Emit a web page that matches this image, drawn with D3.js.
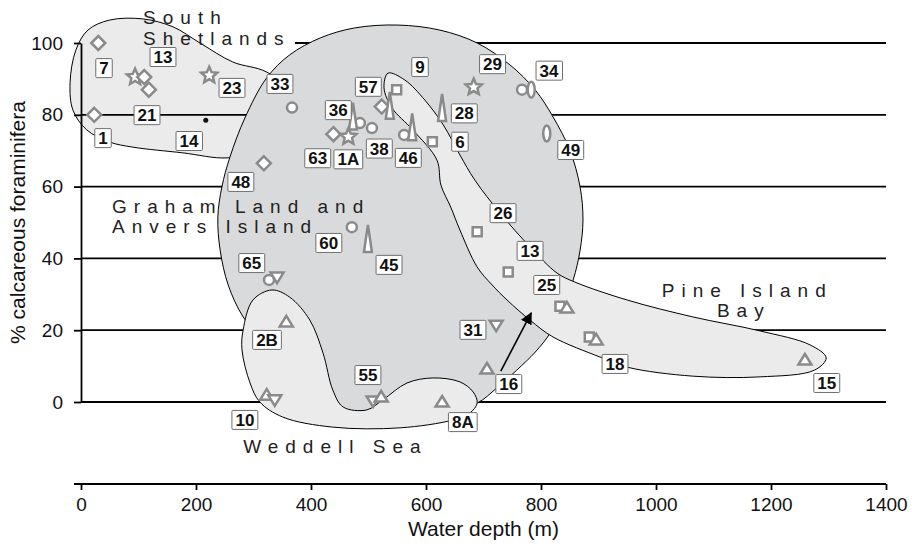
<!DOCTYPE html>
<html><head><meta charset="utf-8">
<script src="https://cdn.jsdelivr.net/npm/d3@7"></script>
<style>
body{margin:0;background:#fff;}
text{font-family:"Liberation Sans",Arial,Helvetica,sans-serif;}
</style></head><body>
<svg id="chart" width="912" height="554"></svg>
<script>
// ---------- data ----------
const xTicks = [0, 200, 400, 600, 800, 1000, 1200, 1400];
const yTicks = [0, 20, 40, 60, 80, 100];

const pointShapes = ["diamond","star","diamond","diamond","star","diamond","dot","circle","diamond",
  "square","diamond","spike","star","circle","ellipse","spike","circle","circle","spike","diamond","star",
  "circle","spike","square","ellipse","circle","spike","square","square","square","triangleUp","square",
  "triangleUp","triangleUp","triangleDown","triangleUp","circle","triangleDown","triangleUp","triangleUp",
  "triangleDown","triangleDown","triangleUp","triangleUp"];
const pointDepths = [30,94,110,118,223,23,217,367,318,
  549,523,537,683,767,783,628,485,506,473,439,465,
  562,576,611,810,471,499,689,743,833,845,884,
  896,1259,722,706,327,341,357,323,
  337,508,522,628];
const pointPercents = [100,90.5,90.5,87,91,80,78.5,82,66.5,
  87,82.3,82.5,87.7,87,87,81.9,77.7,76.3,79.5,74.6,73.9,
  74.4,76.5,72.5,74.8,48.7,45.4,47.4,36.2,26.7,26.2,18.1,
  17.3,11.7,21.4,9.2,34,34.8,22.3,1.9,
  0.6,0.3,1.4,0];

const stationLabels = ["7","13","21","1","14","23","33","48","9","29","34","57","36","28","6","63","1A","38",
  "46","49","26","13","25","60","45","65","2B","31","55","10","8A","16","18","15"];
const stationLabelDepths = [40,142.6,114.8,38.3,187.8,262.6,346,278,589.6,715.7,813.9,499.7,447.5,666.6,659,411.7,464.9,518.8,
  569.2,851.7,734,781,810,431,535.7,297,323.5,681.7,499,285,664,744,928.7,1297];
const stationLabelPercents = [93,96.1,79.9,73.5,72.7,87.5,88.6,61.3,93.3,94.1,92.3,87.8,81.3,80.4,72.5,67.9,67.6,70.6,
  68,70.2,52.6,42.1,32.6,44.3,38.2,38.7,17.3,20.1,7.5,-5,-5.6,5,10.6,5.3];

// region outlines (depth m, % calcareous)
const southShetlands = [[-19,88.9],[-9,98],[12,103.6],[50,106.4],[108,106.7],[160,104.5],[207,100],[264,94.7],
  [323,91.9],[381,84.1],[311,70.2],[254,68],[177,69.4],[90,71],[50,72.4],[10,75.8],[-14,81.3]];
const grahamLand = [[551,105],[624,103.6],[689,100],[746,93.9],[790,86.9],[821,79.4],[850,70.2],[868,59.9],
  [873,50.7],[868,42.3],[856,34],[836,25.6],[816,19.2],[790,13.9],[758,8.9],[723,3.9],[689,-0.3],[624,-3.3],
  [555,-3.9],[485,-3.6],[433,-0.8],[381,4.7],[329,14.5],[282,23.7],[256,32.6],[242,42.3],[238,51.5],[245,59.9],
  [259,68.2],[285,79.1],[323,90.3],[363,96.7],[416,101.4],[476,104.2]];
const pineIslandBay = [[534,91.6],[563,89.7],[598,84.1],[630,77.2],[659,68.8],[685,61.8],[729,52.6],[781,43.2],
  [828,35.9],[859,33.4],[950,28.4],[1064,23.7],[1181,19.8],[1268,15.9],[1296,12.3],[1276,8.9],[1181,7],
  [1064,7.2],[950,9.7],[903,12.5],[821,18.1],[781,22.8],[741,28.4],[715,32.6],[689,37.6],[659,47.9],
  [643,54.3],[626,60.4],[619,67.4],[577,75.8],[541,81.9],[527,87.5]];
const weddellSea = [[332,31.2],[363,29.2],[398,22.8],[421,13.6],[438,3.3],[456,-1.4],[497,-2.2],[525,0.6],
  [567,5.3],[612,6.7],[659,5.6],[682,2.8],[689,-0.3],[676,-3.1],[647,-5],[555,-7.2],[438,-7],[351,-4.2],
  [311,0],[294,5.3],[280,14.5],[282,20.1],[299,28.4]];

const regionNames = ["South","Shetlands","Graham Land and","Anvers Island","Pine Island","Bay","Weddell Sea"];
const regionNameDepths = [108,108,54,54,1010,1106,282];
const regionNamePercents = [105.3,99.4,52.6,47.1,29.2,23.7,-14.2];

const arrowFrom = [730, 8.6];
const arrowTo = [783, 24.8];

// ---------- chart ----------
const svg = d3.select("#chart");
const x = d3.scaleLinear().domain([0, 1400]).range([81, 886]);
const y = d3.scaleLinear().domain([0, 100]).range([402, 43]);

const blob = d3.line().x(d => x(d[0])).y(d => y(d[1])).curve(d3.curveCatmullRomClosed.alpha(0.5));

const light = "#ebebeb", mid = "#d9dadb", markGrey = "#8a8a8a";
const fontFam = '"Liberation Sans",Arial,sans-serif';

// South Shetlands blob (under gridlines)
svg.append("path").attr("d", blob(southShetlands)).attr("fill", light).attr("stroke", "#000").attr("stroke-width", 1);

// gridlines
svg.append("g").selectAll("line").data(yTicks).join("line")
  .attr("x1", d => d === 100 ? x(372) : x(0)).attr("x2", x(1400))
  .attr("y1", d => y(d)).attr("y2", d => y(d))
  .attr("stroke", "#000").attr("stroke-width", 1.8);

// y axis
const yAxis = svg.append("g").attr("transform", `translate(${x(0)},0)`)
  .call(d3.axisLeft(y).tickValues(yTicks).tickSize(7).tickSizeOuter(0).tickPadding(11));
yAxis.select(".domain").attr("stroke-width", 1.8);
yAxis.selectAll(".tick line").attr("stroke-width", 1.8);
yAxis.selectAll("text").attr("font-size", 19).attr("fill", "#111").style("font-family", fontFam);

// other blobs
svg.append("path").attr("d", blob(grahamLand)).attr("fill", mid).attr("stroke", "#000").attr("stroke-width", 1);
svg.append("path").attr("d", blob(pineIslandBay)).attr("fill", light).attr("stroke", "#000").attr("stroke-width", 1);
svg.append("path").attr("d", blob(weddellSea)).attr("fill", light).attr("stroke", "#000").attr("stroke-width", 1);

// x axis
const xAxisY = 484;
svg.append("line").attr("x1", x(0) - 7).attr("x2", x(1400)).attr("y1", xAxisY).attr("y2", xAxisY)
  .attr("stroke", "#000").attr("stroke-width", 1.8);
const xAxis = svg.append("g").attr("transform", `translate(0,${xAxisY})`)
  .call(d3.axisBottom(x).tickValues(xTicks).tickFormat(d3.format("d")).tickSize(6).tickSizeOuter(0).tickPadding(8));
xAxis.select(".domain").remove();
xAxis.selectAll(".tick line").attr("stroke-width", 1.8);
xAxis.selectAll("text").attr("font-size", 19).attr("fill", "#111").style("font-family", fontFam);

// axis titles
svg.append("text").attr("x", (x(0) + x(1400)) / 2).attr("y", 536).attr("text-anchor", "middle")
  .attr("font-size", 21).attr("fill", "#111").text("Water depth (m)");
svg.append("text").attr("transform", `translate(25,${(y(0) + y(100)) / 2}) rotate(-90)`).attr("text-anchor", "middle")
  .attr("font-size", 21).attr("fill", "#111").text("% calcareous foraminifera");

// region names
svg.append("g").selectAll("text").data(regionNames).join("text")
  .attr("x", (d, i) => x(regionNameDepths[i])).attr("y", (d, i) => y(regionNamePercents[i]))
  .attr("font-size", 19).attr("letter-spacing", 7).attr("fill", "#222").text(d => d);

// markers
function starPath(R, r) {
  let p = "";
  for (let k = 0; k < 10; k++) {
    const a = -Math.PI / 2 + k * Math.PI / 5, rad = k % 2 ? r : R;
    p += (k ? "L" : "M") + (rad * Math.cos(a)).toFixed(2) + "," + (rad * Math.sin(a)).toFixed(2);
  }
  return p + "Z";
}
const shapes = {
  diamond: "M0,-7L7,0L0,7L-7,0Z",
  square: "M-4.5,-4.5h9v9h-9Z",
  circle: "M5,0A5,5 0 1,1 -5,0A5,5 0 1,1 5,0Z",
  triangleUp: "M0,-6L6.5,4.5L-6.5,4.5Z",
  triangleDown: "M0,6L6.5,-4.5L-6.5,-4.5Z",
  spike: "M0,-14L4,13L-4,13Z",
  ellipse: "M3.5,0A3.5,8 0 1,1 -3.5,0A3.5,8 0 1,1 3.5,0Z",
  star: starPath(8.5, 3.9),
  dot: "M2.5,0A2.5,2.5 0 1,1 -2.5,0A2.5,2.5 0 1,1 2.5,0Z"
};
svg.append("g").selectAll("path").data(pointShapes).join("path")
  .attr("transform", (d, i) => `translate(${x(pointDepths[i])},${y(pointPercents[i])})`)
  .attr("d", d => shapes[d])
  .attr("fill", d => d === "dot" ? "#111" : "#fff")
  .attr("stroke", d => d === "dot" ? "none" : markGrey)
  .attr("stroke-width", 2.5).attr("stroke-linejoin", "miter");

// arrow
svg.append("defs").append("marker").attr("id", "ah").attr("viewBox", "0 0 10 10").attr("refX", 9).attr("refY", 5)
  .attr("markerWidth", 12).attr("markerHeight", 12).attr("orient", "auto").attr("markerUnits", "userSpaceOnUse")
  .append("path").attr("d", "M0,0L10,5L0,10Z").attr("fill", "#000");
svg.append("line").attr("x1", x(arrowFrom[0])).attr("y1", y(arrowFrom[1])).attr("x2", x(arrowTo[0])).attr("y2", y(arrowTo[1]))
  .attr("stroke", "#000").attr("stroke-width", 1.6).attr("marker-end", "url(#ah)");

// station labels
const lg = svg.append("g").selectAll("g").data(stationLabels).join("g")
  .attr("transform", (d, i) => `translate(${x(stationLabelDepths[i])},${y(stationLabelPercents[i])})`);
lg.append("text").attr("text-anchor", "middle").attr("dy", "0.36em")
  .attr("font-size", 17).attr("font-weight", "bold").attr("fill", "#111").text(d => d);
lg.each(function () {
  const g = d3.select(this);
  const bb = g.select("text").node().getBBox();
  g.insert("rect", "text").attr("x", bb.x - 3.5).attr("y", -9.5).attr("width", bb.width + 7).attr("height", 19)
    .attr("fill", "#fff").attr("stroke", "#6e6e6e").attr("stroke-width", 1).attr("rx", 1);
});
</script>
</body></html>
